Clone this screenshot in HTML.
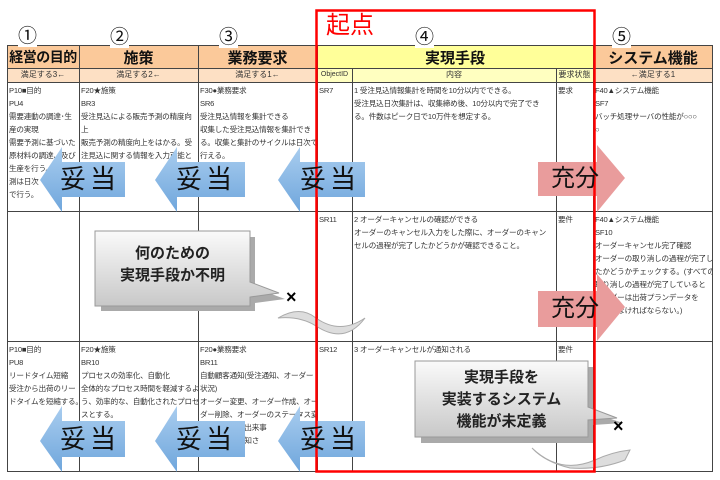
<!DOCTYPE html>
<html><head><meta charset="utf-8"><style>
*{margin:0;padding:0;box-sizing:border-box}
body{width:720px;height:480px;background:#fff;position:relative;overflow:hidden;font-family:"Liberation Sans","Noto Sans CJK JP",sans-serif}
.a{position:absolute}
.c{font-size:7.6px;line-height:13px;color:#333;white-space:nowrap;overflow:hidden;letter-spacing:-0.2px}
.h{font-weight:bold;font-size:15px;text-align:center;color:#111;white-space:nowrap}
.s{font-size:8px;text-align:center;color:#333;line-height:14px}
.n{font-size:19px;line-height:20px;background:#fff;color:#111}
</style></head><body>
<svg class="a" style="left:0;top:0" width="720" height="480">
<rect x="7" y="45" width="309" height="23" fill="#fbc99a"/>
<rect x="316" y="45" width="277" height="23" fill="#ffff99"/>
<rect x="593" y="45" width="120" height="23" fill="#fbc99a"/>
<rect x="7" y="68" width="309" height="14" fill="#fde0c4"/>
<rect x="316" y="68" width="277" height="14" fill="#ffffc0"/>
<rect x="593" y="68" width="120" height="14" fill="#fde0c4"/>
<g stroke="#444" stroke-width="1" fill="none">
<rect x="7.5" y="45.5" width="705" height="426"/>
<line x1="7" y1="68.5" x2="713" y2="68.5"/>
<line x1="7" y1="82.5" x2="713" y2="82.5"/>
<line x1="7" y1="211.5" x2="713" y2="211.5"/>
<line x1="7" y1="341.5" x2="713" y2="341.5"/>
<line x1="79.5" y1="45" x2="79.5" y2="472"/>
<line x1="198.5" y1="45" x2="198.5" y2="472"/>
<line x1="317.5" y1="45" x2="317.5" y2="472"/>
<line x1="352.5" y1="68" x2="352.5" y2="472"/>
<line x1="556.5" y1="68" x2="556.5" y2="472"/>
<line x1="593.5" y1="45" x2="593.5" y2="472"/>
</g>
</svg>
<div class="a n" style="left:18px;top:27px">①</div>
<div class="a n" style="left:110px;top:28px">②</div>
<div class="a n" style="left:219px;top:28px">③</div>
<div class="a n" style="left:415px;top:28px">④</div>
<div class="a n" style="left:612px;top:28px">⑤</div>
<div class="a" style="left:326px;top:12px;font-size:24px;color:#f00;line-height:28px">起点</div>
<div class="a h" style="left:7px;top:47px;width:72px;font-size:14px;letter-spacing:-0.5px">経営の目的</div>
<div class="a h" style="left:79px;top:47px;width:119px">施策</div>
<div class="a h" style="left:198px;top:47px;width:119px">業務要求</div>
<div class="a h" style="left:317px;top:47px;width:276px">実現手段</div>
<div class="a h" style="left:593px;top:47px;width:120px">システム機能</div>
<div class="a s" style="left:7px;top:68px;width:72px">満足する3←</div>
<div class="a s" style="left:79px;top:68px;width:119px">満足する2←</div>
<div class="a s" style="left:198px;top:68px;width:119px">満足する1←</div>
<div class="a s" style="left:317px;top:68px;width:35px;font-size:7px">ObjectID</div>
<div class="a s" style="left:352px;top:68px;width:204px">内容</div>
<div class="a s" style="left:556px;top:68px;width:37px">要求状態</div>
<div class="a s" style="left:593px;top:68px;width:120px">←満足する1</div>

<div class="a c" style="left:9px;top:84px;width:70px">P10■目的<br>PU4<br>需要連動の調達･生<br>産の実現<br>需要予測に基づいた<br>原材料の調達、及び<br>生産を行う。<br>測は日次<br>で行う。</div>
<div class="a c" style="left:81px;top:84px;width:117px">F20★施策<br>BR3<br>受注見込による販売予測の精度向<br>上<br>販売予測の精度向上をはかる。受<br>注見込に関する情報を入力可能と<br>する。</div>
<div class="a c" style="left:200px;top:84px;width:117px">F30●業務要求<br>SR6<br>受注見込情報を集計できる<br>収集した受注見込情報を集計でき<br>る。収集と集計のサイクルは日次で<br>行える。</div>
<div class="a c" style="left:319px;top:84px">SR7</div>
<div class="a c" style="left:354px;top:84px;width:202px">1 受注見込情報集計を時間を10分以内でできる。<br>受注見込日次集計は、収集締め後、10分以内で完了でき<br>る。件数はピーク日で10万件を想定する。</div>
<div class="a c" style="left:558px;top:84px">要求</div>
<div class="a c" style="left:595px;top:84px;width:117px">F40▲システム機能<br>SF7<br>バッチ処理サーバの性能が○○○<br>○</div>

<div class="a c" style="left:319px;top:213px">SR11</div>
<div class="a c" style="left:354px;top:213px;width:202px">2 オーダーキャンセルの確認ができる<br>オーダーのキャンセル入力をした際に、オーダーのキャン<br>セルの過程が完了したかどうかが確認できること。</div>
<div class="a c" style="left:558px;top:213px">要件</div>
<div class="a c" style="left:595px;top:213px;width:117px">F40▲システム機能<br>SF10<br>オーダーキャンセル完了確認<br>オーダーの取り消しの過程が完了し<br>たかどうかチェックする。(すべての<br>取り消しの過程が完了していると<br>オーダーは出荷プランデータを<br>ートしなければならない。)</div>

<div class="a c" style="left:9px;top:343px;width:70px">P10■目的<br>PU8<br>リードタイム短縮<br>受注から出荷のリー<br>ドタイムを短縮する。</div>
<div class="a c" style="left:81px;top:343px;width:117px">F20★施策<br>BR10<br>プロセスの効率化、自動化<br>全体的なプロセス時間を軽減するよ<br>う、効率的な、自動化されたプロセ<br>スとする。</div>
<div class="a c" style="left:200px;top:343px;width:117px">F20●業務要求<br>BR11<br>自動顧客通知(受注通知、オーダー<br>状況)<br>オーダー変更、オーダー作成、オー<br>ダー削除、オーダーのステータス変<br>更など重要な出来事<br>を自動的に通知さ</div>
<div class="a c" style="left:319px;top:343px">SR12</div>
<div class="a c" style="left:354px;top:343px">3 オーダーキャンセルが通知される</div>
<div class="a c" style="left:558px;top:343px">要件</div>

<svg class="a" style="left:0;top:0" width="720" height="480">
<defs><linearGradient id="b" x1="0" y1="0" x2="0" y2="1"><stop offset="0" stop-color="#a9cdef"/><stop offset="1" stop-color="#6fa6dc"/></linearGradient>
<linearGradient id="g" x1="0" y1="0" x2="0" y2="1"><stop offset="0" stop-color="#fafafa"/><stop offset="1" stop-color="#c8c8c8"/></linearGradient></defs>
<g fill="url(#b)">
<polygon points="40,180 62,147 62,162 125,162 125,197 62,197 62,212"/>
<polygon points="155,180 177,147 177,162 245,162 245,197 177,197 177,212"/>
<polygon points="278,180 300,147 300,162 365,162 365,197 300,197 300,212"/>
<polygon points="40,441 62,406 62,421 125,421 125,457 62,457 62,472"/>
<polygon points="155,441 177,406 177,421 245,421 245,457 177,457 177,472"/>
<polygon points="278,441 300,406 300,421 365,421 365,457 300,457 300,472"/>
</g>
<g fill="#e99c9c">
<polygon points="538,162 597,162 597,145 625,178 597,212 597,196 538,196"/>
<polygon points="538,291 597,291 597,274 625,307 597,341 597,327 538,327"/>
</g>
<path d="M98,234 H252 V285 L282,296 L252,300 V308 H98 Z" fill="#aaa" transform="translate(3,3)"/>
<path d="M95,231 H250 V282 L279,293 L250,297 V306 H95 Z" fill="url(#g)" stroke="#999"/>
<path d="M418,364 H590 V410 L620,420 L590,422 V440 H418 Z" fill="#aaa" transform="translate(3,3)"/>
<path d="M415,361 H588 V407 L617,418 L588,420 V437 H415 Z" fill="url(#g)" stroke="#999"/>
<path d="M278,318 Q300,305 316,318 Q340,335 365,318 Q345,345 316,326 Q300,316 278,318Z" fill="#ddd" stroke="#aaa"/>
<path d="M532,448 Q560,475 595,460 Q612,452 630,450 L625,460 Q600,470 570,468 Q545,462 532,448Z" fill="#ddd" stroke="#aaa"/>
<rect x="316.5" y="10.5" width="278" height="461" fill="none" stroke="#f00" stroke-width="2.5"/>
</svg>
<div class="a" style="left:60px;top:164px;font-size:26px;line-height:30px;letter-spacing:4px;color:#111">妥当</div>
<div class="a" style="left:176px;top:164px;font-size:26px;line-height:30px;letter-spacing:4px;color:#111">妥当</div>
<div class="a" style="left:300px;top:164px;font-size:26px;line-height:30px;letter-spacing:4px;color:#111">妥当</div>
<div class="a" style="left:60px;top:424px;font-size:26px;line-height:30px;letter-spacing:4px;color:#111">妥当</div>
<div class="a" style="left:176px;top:424px;font-size:26px;line-height:30px;letter-spacing:4px;color:#111">妥当</div>
<div class="a" style="left:300px;top:424px;font-size:26px;line-height:30px;letter-spacing:4px;color:#111">妥当</div>
<div class="a" style="left:551px;top:164px;font-size:24px;line-height:30px;color:#111">充分</div>
<div class="a" style="left:551px;top:294px;font-size:24px;line-height:30px;color:#111">充分</div>
<div class="a" style="left:95px;top:243px;width:155px;text-align:center;font-size:15px;font-weight:bold;line-height:22px;color:#222">何のための<br>実現手段か不明</div>
<div class="a" style="left:415px;top:367px;width:173px;text-align:center;font-size:15px;font-weight:bold;line-height:22px;color:#222">実現手段を<br>実装するシステム<br>機能が未定義</div>
<div class="a" style="left:286px;top:287px;font-size:18px;font-weight:bold">×</div>
<div class="a" style="left:613px;top:416px;font-size:18px;font-weight:bold">×</div>
</body></html>
